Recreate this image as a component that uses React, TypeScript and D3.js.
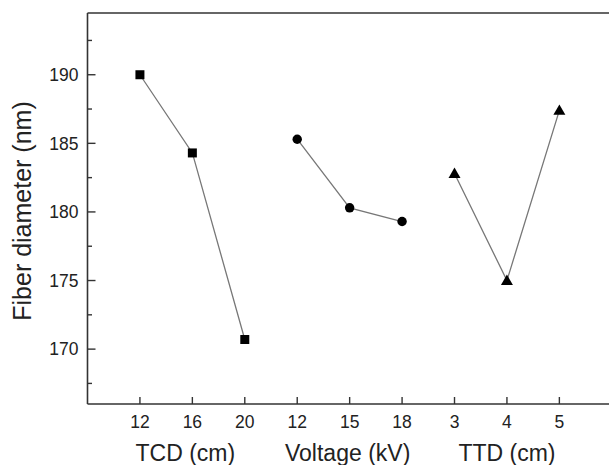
import React from "react";
import * as d3 from "d3";

const groupTitles = ["TCD (cm)", "Voltage (kV)", "TTD (cm)"];
const tcdLabels = ["12", "16", "20"];
const voltageLabels = ["12", "15", "18"];
const ttdLabels = ["3", "4", "5"];
const tcdValues = [190.0, 184.3, 170.7];
const voltageValues = [185.3, 180.3, 179.3];
const ttdValues = [182.8, 175.0, 187.4];
const yTicks = [170, 175, 180, 185, 190];
const yMinorTicks = [167.5, 172.5, 177.5, 182.5, 187.5, 192.5];

const W = 609;
const H = 465;
const left = 87.5;
const top = 13;
const bottom = 404;

export default function App() {
  const x = d3.scaleLinear().domain([-1, 9]).range([left, 611.8]);
  const y = d3.scaleLinear().domain([166, 194.5]).range([bottom, top]);
  const groups = [
    { labels: tcdLabels, values: tcdValues, shape: d3.symbolSquare },
    { labels: voltageLabels, values: voltageValues, shape: d3.symbolCircle },
    { labels: ttdLabels, values: ttdValues, shape: d3.symbolTriangle },
  ];
  const allLabels = [...tcdLabels, ...voltageLabels, ...ttdLabels];
  const line = d3
    .line<[number, number]>()
    .x((d) => x(d[0]))
    .y((d) => y(d[1]));
  const font = "Liberation Sans, Arial, sans-serif";
  const axisColor = "#333";
  const titleOffsets = [-7, -2, 0];
  return (
    <svg
      width={W}
      height={H}
      style={{ position: "absolute", left: 0, top: 0, background: "#fff" }}
      fontFamily={font}
    >
      <rect x={0} y={0} width={W} height={H} fill="#fff" />
      {/* frame */}
      <line x1={left} x2={W} y1={top} y2={top} stroke={axisColor} strokeWidth={1.6} />
      <line x1={left} x2={left} y1={top} y2={bottom} stroke={axisColor} strokeWidth={1.6} />
      <line x1={left} x2={W} y1={bottom} y2={bottom} stroke={axisColor} strokeWidth={1.6} />
      {/* y ticks */}
      {yTicks.map((t) => (
        <g key={"yt" + t}>
          <line x1={left} x2={left + 8} y1={y(t)} y2={y(t)} stroke={axisColor} strokeWidth={1.4} />
          <text x={left - 9} y={y(t)} dy="0.36em" textAnchor="end" fontSize={17.5} fill="#222">
            {t}
          </text>
        </g>
      ))}
      {yMinorTicks.map((t) => (
        <line key={"ym" + t} x1={left} x2={left + 4.5} y1={y(t)} y2={y(t)} stroke={axisColor} strokeWidth={1.4} />
      ))}
      {/* x ticks */}
      {allLabels.map((lab, i) => (
        <g key={"xt" + i}>
          <line x1={x(i)} x2={x(i)} y1={bottom} y2={bottom - 7} stroke={axisColor} strokeWidth={1.4} />
          <text x={x(i)} y={428} textAnchor="middle" fontSize={17.5} fill="#222">
            {lab}
          </text>
        </g>
      ))}
      {groupTitles.map((t, g) => (
        <text key={t} x={x(g * 3 + 1) + titleOffsets[g]} y={461} textAnchor="middle" fontSize={23} fill="#222">
          {t}
        </text>
      ))}
      <text
        transform={`translate(31, 211) rotate(-90)`}
        textAnchor="middle"
        fontSize={25}
        fill="#222"
      >
        Fiber diameter (nm)
      </text>
      {/* series */}
      {groups.map((g, gi) => {
        const pts: [number, number][] = g.values.map((v, i) => [gi * 3 + i, v]);
        const sym = d3
          .symbol()
          .type(g.shape)
          .size(g.shape === d3.symbolSquare ? 81 : g.shape === d3.symbolCircle ? 70 : 62)();
        return (
          <g key={"s" + gi}>
            <path d={line(pts) || ""} fill="none" stroke="#777" strokeWidth={1.3} />
            {pts.map((p, i) => (
              <path
                key={i}
                d={sym || ""}
                transform={`translate(${x(p[0])},${y(p[1]) + (g.shape === d3.symbolTriangle ? 1 : 0)})`}
                fill="#000"
              />
            ))}
          </g>
        );
      })}
    </svg>
  );
}
